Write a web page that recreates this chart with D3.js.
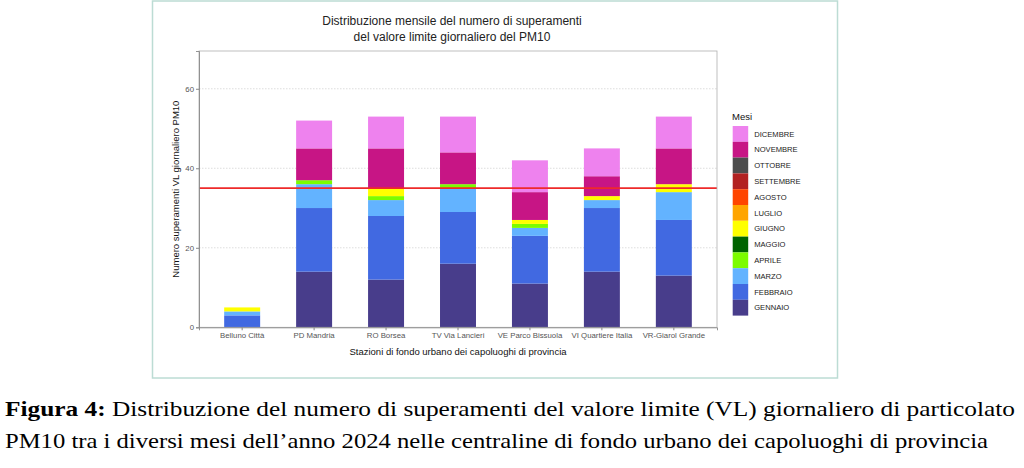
<!DOCTYPE html>
<html><head><meta charset="utf-8">
<script src="https://cdn.jsdelivr.net/npm/d3@7"></script>
<style>html,body{margin:0;padding:0;background:#fff;}svg{display:block;}</style>
</head><body>
<svg id="chart" width="1024" height="468"></svg>
<script>
const stations = ["Belluno Città","PD Mandria","RO Borsea","TV Via Lancieri","VE Parco Bissuola","VI Quartiere Italia","VR-Giarol Grande"];
const months = ["GENNAIO","FEBBRAIO","MARZO","APRILE","MAGGIO","GIUGNO","LUGLIO","AGOSTO","SETTEMBRE","OTTOBRE","NOVEMBRE","DICEMBRE"];
const monthColors = ["#483D8B","#4169E1","#63B3FF","#7CFC00","#006400","#FFFF00","#FFA500","#FF4500","#B22222","#4D4D4D","#C71585","#EE82EE"];
const gennaio   = [0,14,12,16,11,14,13];
const febbraio  = [3,16,16,13,12,16,14];
const marzo     = [1,6,4,6,2,2,7];
const aprile    = [0,1,1,1,1,0,0];
const maggio    = [0,0,0,0,0,0,0];
const giugno    = [1,0,2,0,1,1,2];
const luglio    = [0,0,0,0,0,0,0];
const agosto    = [0,0,0,0,0,0,0];
const settembre = [0,0,0,0,0,0,0];
const ottobre   = [0,0,0,0,0,0,0];
const novembre  = [0,8,10,8,7,5,9];
const dicembre  = [0,7,8,9,8,7,8];
const yTicks = [0,20,40,60];
const limitValue = 35;

const seriesValues = [gennaio,febbraio,marzo,aprile,maggio,giugno,luglio,agosto,settembre,ottobre,novembre,dicembre];
const table = stations.map((s,i)=>{const r={station:s}; months.forEach((m,j)=>r[m]=seriesValues[j][i]); return r;});
const stack = d3.stack().keys(months)(table);

const svg = d3.select("#chart");
const ff = "'Liberation Sans', Arial, sans-serif";

// outer frame
svg.append("rect").attr("x",152.5).attr("y",1).attr("width",685).attr("height",377)
  .attr("fill","none").attr("stroke","#bcdcd4").attr("stroke-width",1.5);

const L=199, R=717, T=51, B=327.3;
const x = d3.scaleBand().domain(stations).range([L,R]).paddingInner(0.5).paddingOuter(0.35);
const y = d3.scaleLinear().domain([0,69.5]).range([B,T]);
const color = d3.scaleOrdinal().domain(months).range(monthColors);

// gridlines
svg.append("g").selectAll("line").data(yTicks.filter(d=>d>0)).join("line")
  .attr("x1",L).attr("x2",R).attr("y1",d=>y(d)).attr("y2",d=>y(d))
  .attr("stroke","#cfcfcf").attr("stroke-width",0.7).attr("stroke-dasharray","1.5,1.5");

// bars
svg.append("g").selectAll("g").data(stack).join("g").attr("fill",d=>color(d.key))
  .selectAll("rect").data(d=>d).join("rect")
  .attr("x",d=>x(d.data.station)).attr("width",x.bandwidth())
  .attr("y",d=>y(d[1])).attr("height",d=>Math.max(0,y(d[0])-y(d[1])));

// limit line
svg.append("line").attr("x1",L).attr("x2",R).attr("y1",y(limitValue)).attr("y2",y(limitValue))
  .attr("stroke","#EE2A2A").attr("stroke-width",1.6);

// panel border
svg.append("rect").attr("x",L).attr("y",T).attr("width",R-L).attr("height",B-T)
  .attr("fill","none").attr("stroke","#b0b0b0").attr("stroke-width",0.8);

// axes
const yAxis = svg.append("g").attr("transform",`translate(${L},0)`)
  .call(d3.axisLeft(y).tickValues(yTicks).tickSize(3).tickPadding(2));
const xAxis = svg.append("g").attr("transform",`translate(0,${B})`)
  .call(d3.axisBottom(x).tickSize(3).tickPadding(2));
[yAxis,xAxis].forEach(a=>{
  a.select(".domain").attr("stroke","#888").attr("stroke-width",0.9);
  a.selectAll(".tick line").attr("stroke","#888");
  a.selectAll("text").attr("fill","#555").attr("font-family",ff).attr("font-size","7.8px");
});

// titles
svg.append("text").attr("x",452).attr("y",25).attr("text-anchor","middle")
  .attr("font-family",ff).attr("font-size","12px").attr("fill","#222")
  .text("Distribuzione mensile del numero di superamenti");
svg.append("text").attr("x",452).attr("y",41).attr("text-anchor","middle")
  .attr("font-family",ff).attr("font-size","12px").attr("fill","#222")
  .text("del valore limite giornaliero del PM10");
svg.append("text").attr("transform",`translate(179,${(T+B)/2}) rotate(-90)`).attr("text-anchor","middle")
  .attr("font-family",ff).attr("font-size","9.5px").attr("fill","#111")
  .text("Numero superamenti VL giornaliero PM10");
svg.append("text").attr("x",(L+R)/2).attr("y",355).attr("text-anchor","middle")
  .attr("font-family",ff).attr("font-size","9.5px").attr("fill","#111")
  .text("Stazioni di fondo urbano dei capoluoghi di provincia");

// legend
const lg = svg.append("g");
lg.append("text").attr("x",732).attr("y",120).attr("font-family",ff).attr("font-size","9.5px").attr("fill","#111").text("Mesi");
const legendOrder = months.slice().reverse();
const ls = 15.8;
const items = lg.selectAll("g.item").data(legendOrder).join("g").attr("class","item")
  .attr("transform",(d,i)=>`translate(732.7,${126+i*ls})`);
items.append("rect").attr("width",15.5).attr("height",ls).attr("fill",d=>color(d));
items.append("text").attr("x",21.5).attr("y",ls/2+2.7).attr("font-family",ff).attr("font-size","7.6px").attr("fill","#222").text(d=>d);

// caption
const cf = "'Liberation Serif','Times New Roman',serif";
const c1 = svg.append("text").attr("x",5).attr("y",416).attr("font-family",cf).attr("font-size","22px").attr("fill","#000")
  .attr("textLength",1010).attr("lengthAdjust","spacingAndGlyphs");
c1.append("tspan").attr("font-weight","bold").text("Figura 4:");
c1.append("tspan").text(" Distribuzione del numero di superamenti del valore limite (VL) giornaliero di particolato");
svg.append("text").attr("x",5).attr("y",448).attr("font-family",cf).attr("font-size","22px").attr("fill","#000")
  .attr("textLength",983).attr("lengthAdjust","spacingAndGlyphs")
  .text("PM10 tra i diversi mesi dell\u2019anno 2024 nelle centraline di fondo urbano dei capoluoghi di provincia");
</script>
</body></html>
